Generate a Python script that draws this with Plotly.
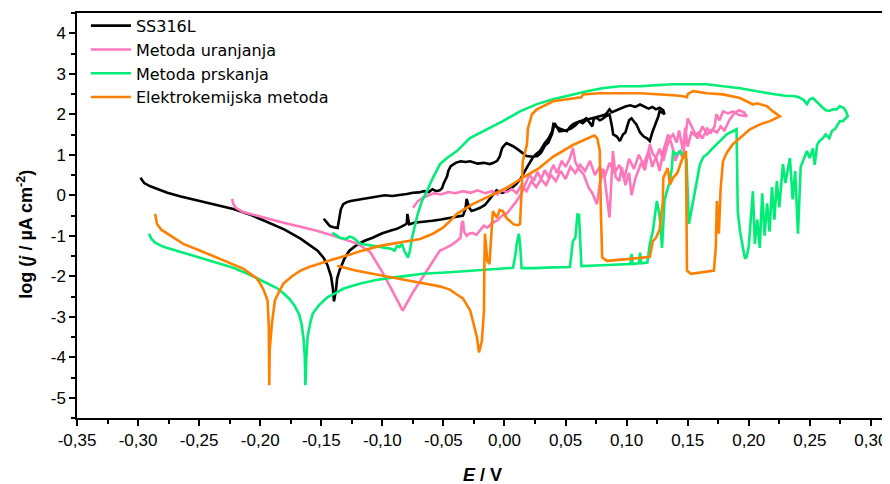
import plotly.graph_objects as go

# SS316L: cathodic -> anodic forward scan, then reverse scan
ss_E = [-0.298, -0.295, -0.290, -0.283, -0.276, -0.265, -0.249, -0.235, -0.222, -0.208, -0.194, -0.180,
        -0.167, -0.158, -0.153, -0.148, -0.145, -0.142, -0.1405, -0.1396, -0.138, -0.137, -0.135, -0.131,
        -0.127, -0.122, -0.115, -0.108, -0.100, -0.093, -0.088, -0.082, -0.080, -0.0795, -0.078, -0.074,
        -0.066, -0.059, -0.052, -0.045, -0.038, -0.034, -0.032, -0.031, -0.029, -0.027, -0.024, -0.020,
        -0.016, -0.012, -0.0065, -0.002, 0.0016, 0.006, 0.0098, 0.013, 0.015, 0.019, 0.023, 0.026, 0.029,
        0.033, 0.036, 0.039, 0.040, 0.042, 0.045, 0.048, 0.051, 0.054, 0.056, 0.059, 0.062, 0.065, 0.067,
        0.070, 0.072, 0.073, 0.075, 0.078, 0.080, 0.083, 0.086, 0.088, 0.089, 0.092, 0.0945, 0.097, 0.099,
        0.102, 0.104, 0.106, 0.108, 0.111, 0.114, 0.117, 0.119, 0.121, 0.124, 0.126, 0.127, 0.129, 0.131,
        0.130, 0.127, 0.124, 0.121, 0.118, 0.114, 0.111, 0.107, 0.103, 0.099, 0.095, 0.091, 0.088, 0.086,
        0.083, 0.080, 0.078, 0.074, 0.070, 0.067, 0.064, 0.061, 0.058, 0.054, 0.050, 0.045, 0.041, 0.039,
        0.036, 0.033, 0.030, 0.027, 0.023, 0.018, 0.015, 0.013, 0.010, 0.007, 0.004, 0.0016, -0.001,
        -0.002, -0.004, -0.006, -0.009, -0.012, -0.017, -0.022, -0.028, -0.032, -0.036, -0.040, -0.044,
        -0.046, -0.047, -0.049, -0.050, -0.051, -0.053, -0.056, -0.059, -0.062, -0.066, -0.070, -0.075,
        -0.080, -0.086, -0.092, -0.098, -0.102, -0.108, -0.114, -0.120, -0.126, -0.129, -0.132, -0.134,
        -0.135, -0.1366, -0.140, -0.143, -0.146, -0.148]
ss_logj = [0.43, 0.30, 0.22, 0.14, 0.06, -0.03, -0.14, -0.24, -0.34, -0.48, -0.66, -0.85,
           -1.07, -1.25, -1.37, -1.55, -1.72, -2.00, -2.30, -2.62, -2.35, -2.05, -1.85, -1.56,
           -1.37, -1.25, -1.13, -1.05, -0.94, -0.87, -0.83, -0.74, -0.70, -0.46, -0.72, -0.68,
           -0.66, -0.63, -0.60, -0.56, -0.53, -0.50, -0.35, -0.09, -0.30, -0.39, -0.36, -0.31,
           -0.24, -0.08, 0.12, 0.06, 0.10, 0.18, 0.28, 0.40, 0.52, 0.72, 0.92, 1.02, 1.09,
           1.29, 1.40, 1.58, 1.75, 1.70, 1.65, 1.62, 1.58, 1.70, 1.75, 1.80, 1.83, 1.86, 1.90,
           1.78, 1.70, 1.88, 1.92, 1.85, 1.88, 1.95, 2.00, 1.70, 1.50, 1.45, 1.34, 1.50, 1.55,
           1.85, 1.90, 1.82, 1.75, 1.55, 1.45, 1.40, 1.34, 1.55, 1.78, 1.95, 2.08, 2.04, 2.00,
           2.10, 2.16, 2.12, 2.18, 2.14, 2.20, 2.24, 2.18, 2.22, 2.19, 2.14, 2.10, 2.05, 2.12,
           2.00, 1.97, 1.95, 1.92, 1.89, 1.86, 1.78, 1.82, 1.72, 1.64, 1.60, 1.58, 1.78, 1.52,
           1.30, 1.22, 1.05, 0.97, 0.95, 0.97, 1.04, 1.09, 1.15, 1.21, 1.26, 1.29, 1.20,
           1.16, 0.95, 0.85, 0.80, 0.77, 0.80, 0.78, 0.84, 0.82, 0.84, 0.80, 0.72,
           0.60, 0.47, 0.35, 0.28, 0.18, 0.12, 0.10, 0.15, 0.08, 0.10, 0.07, 0.06,
           0.03, 0.01, -0.02, 0.00, -0.02, -0.05, -0.08, -0.10, -0.14, -0.17, -0.22, -0.35,
           -0.50, -0.81, -0.79, -0.76, -0.65, -0.58]

# Metoda uranjanja
uranj_E = [-0.223, -0.222, -0.220, -0.215, -0.208, -0.195, -0.181, -0.167, -0.153, -0.140, -0.127, -0.120,
           -0.110, -0.100, -0.092, -0.0833, -0.075, -0.066, -0.058, -0.053, -0.048, -0.043, -0.039, -0.036,
           -0.035, -0.034, -0.033, -0.031, -0.029, -0.026, -0.023, -0.020, -0.017, -0.014, -0.010, -0.006,
           -0.002, 0.002, 0.006, 0.010, 0.014, 0.017, 0.0205, 0.024, 0.027, 0.030, 0.033, 0.036, 0.040,
           0.043, 0.047, 0.050, 0.0536, 0.056, 0.058, 0.061, 0.065, 0.069, 0.072, 0.0757, 0.078, 0.081,
           0.083, 0.086, 0.0888, 0.091, 0.094, 0.096, 0.099, 0.102, 0.104, 0.107, 0.110, 0.112, 0.115,
           0.119, 0.121, 0.124, 0.127, 0.130, 0.133, 0.1355, 0.138, 0.141, 0.143, 0.146, 0.148, 0.150,
           0.153, 0.156, 0.159, 0.162, 0.166, 0.169, 0.172, 0.1735, 0.176, 0.179, 0.183, 0.187, 0.192,
           0.1985,
           0.196, 0.192, 0.188, 0.184, 0.180, 0.177, 0.174, 0.170, 0.166, 0.162, 0.158, 0.154, 0.150,
           0.148, 0.146, 0.143, 0.140, 0.137, 0.134, 0.130, 0.127, 0.124, 0.121, 0.118, 0.114, 0.110,
           0.106, 0.102, 0.098, 0.094, 0.090, 0.086, 0.082, 0.078, 0.074, 0.070, 0.066, 0.062, 0.058,
           0.054, 0.050, 0.046, 0.042, 0.038, 0.034, 0.030, 0.026, 0.022, 0.018, 0.014, 0.010, 0.006,
           0.002, -0.002, -0.006, -0.010, -0.016, -0.022, -0.028, -0.034, -0.040, -0.046, -0.052,
           -0.058, -0.062, -0.067, -0.071, -0.075]
uranj_logj = [-0.09, -0.22, -0.31, -0.40, -0.46, -0.57, -0.68, -0.78, -0.88, -1.00, -1.12, -1.20,
              -1.40, -1.90, -2.35, -2.85, -2.40, -1.98, -1.62, -1.37, -1.30, -1.22, -1.13, -1.05,
              -0.70, -0.63, -0.90, -1.00, -0.95, -0.93, -0.98, -0.85, -0.75, -0.80, -0.68, -0.63,
              -0.50, -0.45, -0.30, -0.14, 0.05, 0.25, 0.52, 0.35, 0.58, 0.40, 0.62, 0.45, 0.75,
              0.55, 0.85, 0.70, 0.92, 1.17, 0.82, 0.65, 0.50, 0.18, 0.05, -0.22, 0.28, 0.65,
              0.15, -0.55, 1.09, 0.45, 0.35, 0.70, 0.25, 0.55, 0.00, 0.40, 0.65, 0.80, 0.62,
              1.26, 1.05, 0.92, 1.15, 0.85, 1.20, 1.41, 1.50, 1.30, 1.60, 1.12, 1.67, 1.20,
              1.55, 1.48, 1.55, 1.40, 1.65, 1.55, 1.70, 2.00, 1.85, 2.07, 2.02, 2.07, 1.98,
              1.95,
              2.05, 2.10, 2.02, 1.85, 1.60, 1.70, 1.55, 1.62, 1.50, 1.70, 1.40, 1.65, 1.90,
              1.40, 0.92, 1.10, 0.85, 1.25, 1.50, 1.10, 0.60, 0.95, 0.70, 1.10, 0.75, 1.00,
              0.65, 0.90, 0.40, 0.75, 0.55, 0.80, 0.45, 0.70, 0.50, 0.85, 0.60, 0.75, 0.55,
              0.70, 0.40, 0.60, 0.35, 0.50, 0.25, 0.40, 0.20, 0.35, 0.10, 0.25, 0.05, 0.15,
              0.08, 0.12, 0.02, 0.10, 0.05, 0.12, 0.06, 0.10, 0.05, 0.08, 0.02,
              0.05, 0.00, -0.06, -0.15, -0.31]

# Metoda prskanja
prsk_E = [-0.291, -0.289, -0.286, -0.281, -0.276, -0.263, -0.249, -0.235, -0.222, -0.208, -0.194, -0.186,
          -0.181, -0.176, -0.172, -0.168, -0.166, -0.1645, -0.1635, -0.163, -0.1622, -0.1612, -0.159,
          -0.157, -0.152, -0.145, -0.138, -0.132, -0.125, -0.118, -0.106, -0.094, -0.080, -0.067, -0.045,
          -0.026, -0.010, 0.0016, 0.007, 0.009, 0.010, 0.0118, 0.013, 0.014, 0.025, 0.040, 0.0536, 0.055,
          0.056, 0.058, 0.0598, 0.061, 0.062, 0.063, 0.080, 0.095, 0.103, 0.104, 0.105, 0.110, 0.111,
          0.112, 0.117, 0.119, 0.1215, 0.1248, 0.127, 0.129, 0.130, 0.131, 0.133, 0.1355, 0.137, 0.138,
          0.141, 0.144, 0.147, 0.149, 0.151, 0.154, 0.1576, 0.160, 0.163, 0.1658, 0.1707, 0.1764, 0.1822,
          0.187, 0.190, 0.191, 0.1928, 0.1952, 0.197, 0.1985, 0.200, 0.2034, 0.205, 0.207, 0.209, 0.211,
          0.213, 0.215, 0.217, 0.219, 0.221, 0.223, 0.225, 0.228, 0.230, 0.2337, 0.236, 0.238, 0.2403,
          0.2425, 0.2476, 0.250, 0.2525, 0.254, 0.256, 0.258, 0.2607, 0.263, 0.266, 0.268, 0.271, 0.2746,
          0.277, 0.281,
          0.280, 0.278, 0.2746, 0.272, 0.269, 0.266, 0.263, 0.260, 0.2575, 0.2558, 0.2525, 0.250, 0.2476,
          0.245, 0.241, 0.237, 0.2312, 0.2198, 0.2067, 0.1928, 0.1789, 0.1658, 0.1518, 0.138, 0.125,
          0.111, 0.0945, 0.080, 0.0675, 0.054, 0.0397, 0.0266, 0.0127, -0.0013, -0.0144, -0.0283,
          -0.039, -0.047, -0.0528, -0.0586, -0.0635, -0.0676, -0.071, -0.0735, -0.0757, -0.0774,
          -0.079, -0.082, -0.084, -0.086, -0.088, -0.090, -0.093, -0.097, -0.102, -0.110, -0.118,
          -0.124, -0.127, -0.130, -0.135, -0.138, -0.141]
prsk_logj = [-0.95, -1.08, -1.17, -1.25, -1.30, -1.42, -1.54, -1.66, -1.79, -1.97, -2.17, -2.30,
             -2.42, -2.56, -2.72, -2.95, -3.20, -3.55, -4.00, -4.69, -4.00, -3.50, -3.15,
             -2.92, -2.72, -2.52, -2.41, -2.31, -2.24, -2.18, -2.10, -2.04, -1.99, -1.94, -1.90,
             -1.86, -1.84, -1.82, -1.79, -1.45, -1.20, -0.95, -1.30, -1.80, -1.80, -1.78, -1.77, -1.40,
             -1.13, -1.05, -0.47, -0.48, -1.20, -1.75, -1.73, -1.71, -1.70, -1.45, -1.70, -1.68, -1.42,
             -1.68, -1.66, -1.20, -0.88, -0.14, -0.50, -1.30, -0.80, -0.14, 0.10, 0.35, 0.67, 1.09,
             1.00, 1.09, 0.95, 0.90, -0.71, -0.20, 0.42, 0.76, 0.95, 1.01, 1.17, 1.34, 1.51,
             1.58, 1.63, -0.39, -0.88, -1.29, -1.57, -1.50, -1.25, 0.10, -1.20, -0.60, -1.30, 0.05,
             -1.00, -0.20, -0.90, 0.20, -0.60, 0.35, -0.30, 0.77, 0.30, 0.92, -0.10, 0.60, -0.95,
             0.70, 1.09, 0.92, 1.16, 0.75, 1.25, 1.34, 1.41, 1.50, 1.41, 1.58, 1.65, 1.83,
             1.83, 1.95,
             2.05, 2.15, 2.20, 2.12, 2.12, 2.08, 2.10, 2.18, 2.25, 2.32, 2.40, 2.37, 2.25,
             2.35, 2.42, 2.45, 2.45, 2.50, 2.57, 2.64, 2.69, 2.74, 2.74, 2.74, 2.72,
             2.69, 2.69, 2.64, 2.57, 2.47, 2.37, 2.25, 2.07, 1.83, 1.63, 1.41,
             1.09, 0.92, 0.77, 0.43, 0.10, -0.14, -0.46, -0.75, -1.05, -1.37,
             -1.54, -1.37, -1.20, -1.28, -1.25, -1.37, -1.32, -1.30, -1.28, -1.25, -1.20,
             -1.05, -1.02, -1.08, -1.05, -0.98, -0.93]

# Elektrokemijska metoda
elek_E = [-0.286, -0.2855, -0.2845, -0.281, -0.276, -0.270, -0.263, -0.249, -0.235, -0.222, -0.214, -0.208,
          -0.203, -0.200, -0.197, -0.194, -0.1935, -0.193, -0.1928, -0.1926, -0.1922, -0.1904, -0.189,
          -0.188, -0.184, -0.181, -0.174, -0.167, -0.160, -0.153, -0.140, -0.127, -0.118, -0.102, -0.086,
          -0.069, -0.0586, -0.0504, -0.045, -0.039, -0.026, -0.0123, 0.0016, 0.0147, 0.0283, 0.0397,
          0.056, 0.0724, 0.074, 0.076, 0.078, 0.079, 0.0795, 0.080, 0.084, 0.0945, 0.1027, 0.110, 0.119,
          0.1215, 0.124, 0.127, 0.1297, 0.130, 0.1337, 0.1355, 0.138, 0.1415, 0.145, 0.1486, 0.1494,
          0.1494, 0.1527, 0.1608, 0.1715, 0.173, 0.1739, 0.1755, 0.1764, 0.177, 0.1789, 0.182, 0.187,
          0.1928, 0.201, 0.2092, 0.2174, 0.2255,
          0.2198, 0.2149, 0.2067, 0.2035, 0.1928, 0.1789, 0.1658, 0.1543, 0.150, 0.1494, 0.145, 0.138,
          0.125, 0.111, 0.0945, 0.078, 0.0642, 0.063, 0.0397, 0.0315, 0.0266, 0.0225, 0.0192, 0.0184,
          0.015, 0.0143, 0.0127, 0.011, 0.0075, 0.0016, -0.0013, -0.004, -0.0062, -0.0095, -0.011,
          -0.0123, -0.014, -0.015, -0.016, -0.0165, -0.0168, -0.0185, -0.0209, -0.0226, -0.026, -0.028,
          -0.031, -0.034, -0.039, -0.0447, -0.053, -0.066, -0.080, -0.094, -0.108, -0.122, -0.137]
elek_logj = [-0.46, -0.60, -0.71, -0.85, -0.95, -1.08, -1.20, -1.37, -1.54, -1.70, -1.81, -1.94,
             -2.05, -2.18, -2.35, -2.60, -2.90, -3.20, -3.80, -4.69, -3.80, -3.17, -2.85,
             -2.60, -2.35, -2.18, -2.00, -1.86, -1.77, -1.70, -1.58, -1.47, -1.38, -1.25, -1.17,
             -1.08, -0.95, -0.80, -0.65, -0.46, -0.22, -0.02, 0.18, 0.43, 0.67, 0.95,
             1.24, 1.46, 1.47, 1.40, 1.10, -0.50, -1.20, -1.54, -1.62, -1.60, -1.57, -1.55, -1.52,
             -1.13, -1.05, -0.85, -0.14, 0.43, 0.67, 0.27, 0.43, 0.55, 0.85, 1.09, -0.88,
             -1.86, -1.94, -1.91, -1.86, -1.29, -0.14, -0.95, -0.30, 0.18, 0.84, 1.05, 1.26,
             1.41, 1.63, 1.75, 1.83, 1.95,
             2.07, 2.20, 2.27, 2.24, 2.40, 2.49, 2.52, 2.57, 2.50, 2.42, 2.45, 2.47,
             2.50, 2.52, 2.52, 2.52, 2.49, 2.42, 2.32, 2.20, 2.12, 2.00, 1.65, 1.26,
             0.84, 0.27, -0.71, -0.74, -0.72, -0.56, -0.39, -0.36, -0.56, -0.39, -1.20,
             -1.70, -1.62, -1.30, -0.95, -1.80, -2.85, -3.60, -3.88, -3.50, -3.10, -2.85,
             -2.70, -2.55, -2.45, -2.33, -2.25, -2.17, -2.10, -2.02, -1.94, -1.86, -1.74]

names = ["SS316L", "Metoda uranjanja", "Metoda prskanja", "Elektrokemijska metoda"]
colors = ["#000000", "#FF77BB", "#00EE77", "#FF8000"]
series = [(ss_E, ss_logj), (uranj_E, uranj_logj), (prsk_E, prsk_logj), (elek_E, elek_logj)]

x_ticks = [-0.35, -0.30, -0.25, -0.20, -0.15, -0.10, -0.05, 0.00, 0.05, 0.10, 0.15, 0.20, 0.25, 0.30]
x_labels = ["-0,35", "-0,30", "-0,25", "-0,20", "-0,15", "-0,10", "-0,05",
            "0,00", "0,05", "0,10", "0,15", "0,20", "0,25", "0,30"]
y_ticks = [-5, -4, -3, -2, -1, 0, 1, 2, 3, 4]
y_labels = ["-5", "-4", "-3", "-2", "-1", "0", "1", "2", "3", "4"]

FONT = "Liberation Sans, Arial, sans-serif"
LEG_FONT = "DejaVu Sans, Liberation Sans, sans-serif"

fig = go.Figure()
for (xs, ys), name, col in zip(series, names, colors):
    fig.add_trace(go.Scatter(x=xs, y=ys, mode="lines", name=name,
                             line=dict(color=col, width=2.6)))

# the page body has an 8px margin, so the figure is a bit smaller than the window
fig.update_layout(
    width=882, height=476,
    margin=dict(l=69, r=2, t=4, b=66),
    plot_bgcolor="white", paper_bgcolor="white",
    font=dict(family=FONT, size=17, color="black"),
    showlegend=True,
    legend=dict(x=0.011, y=1.008, xanchor="left", yanchor="top", bgcolor="rgba(0,0,0,0)",
                font=dict(family=LEG_FONT, size=16), itemwidth=40),
)
fig.update_xaxes(range=[-0.35, 0.314], showgrid=False, zeroline=False,
                 showline=True, linecolor="black", linewidth=1.5, mirror=True,
                 ticks="outside", ticklen=6, tickwidth=1.5, tickcolor="black",
                 tickvals=x_ticks, ticktext=x_labels, tickfont=dict(size=17),
                 minor=dict(dtick=0.025, tick0=-0.35, ticks="outside", ticklen=4, tickwidth=1.5,
                            tickcolor="black", showgrid=False))
fig.update_yaxes(range=[-5.5, 4.5], showgrid=False, zeroline=False,
                 showline=True, linecolor="black", linewidth=1.5,
                 ticks="outside", ticklen=6, tickwidth=1.5, tickcolor="black",
                 tickvals=y_ticks, ticktext=y_labels, tickfont=dict(size=17),
                 minor=dict(dtick=0.5, tick0=0, ticks="outside", ticklen=4, tickwidth=1.5,
                            tickcolor="black", showgrid=False))

fig.add_annotation(text="<b><i>E</i> / V</b>", xref="paper", yref="paper",
                   x=0.5, y=-0.14, xanchor="center", yanchor="middle",
                   showarrow=False, font=dict(size=18))
fig.add_annotation(text="<b>log (<i>j</i> / µA cm<sup>-2</sup>)</b>", xref="paper", yref="paper",
                   x=-0.064, y=0.453, xanchor="center", yanchor="middle", textangle=-90,
                   showarrow=False, font=dict(size=18))

fig.write_html("out.html")
